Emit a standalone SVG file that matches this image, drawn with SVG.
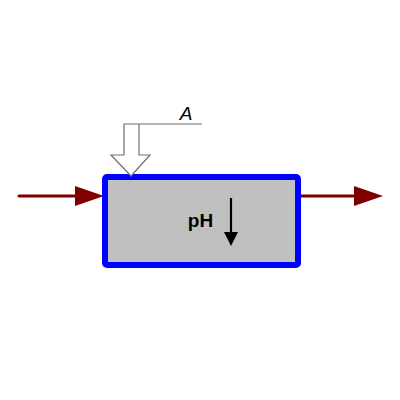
<svg xmlns="http://www.w3.org/2000/svg" width="400" height="400" viewBox="0 0 400 400">
<defs>
<style>
.flow{stroke:#800000;stroke-width:3;fill:none;stroke-linecap:round}
.head{fill:#800000}
.lbl{font-family:"Liberation Sans",Arial,sans-serif}
</style>
</defs>
<rect width="400" height="400" fill="#fff"/>
<g id="connectors">
<line class="flow" x1="19" y1="196" x2="80" y2="196"/>
<polygon class="head" points="75,186 104,196 75,206"/>
<line class="flow" x1="298" y1="196" x2="358" y2="196"/>
<polygon class="head" points="354,186 383,196 354,206"/>
</g>
<g id="tank">
<rect x="105" y="177" width="193" height="88" rx="2" fill="#c0c0c0" stroke="#0000ff" stroke-width="6"/>
<text class="lbl" x="200.5" y="227" font-size="19" font-weight="bold" text-anchor="middle" fill="#000">pH</text>
<line x1="231" y1="198" x2="231" y2="236" stroke="#000" stroke-width="2.2"/>
<polygon points="224,232 238,232 231,246" fill="#000"/>
</g>
<g id="input-A">
<polyline points="202,124 124,124 124,155 111,155 131,176 150,155 139,155 139,124" fill="#fff" stroke="#707070" stroke-width="1.2"/>
<text class="lbl" x="186" y="120" font-size="19" font-style="italic" text-anchor="middle" fill="#000">A</text>
</g>
</svg>
